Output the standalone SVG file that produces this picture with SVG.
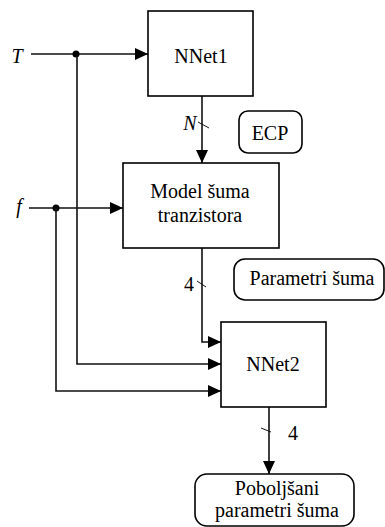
<svg xmlns="http://www.w3.org/2000/svg" width="385" height="527" viewBox="0 0 385 527">
<style>
.box{fill:#fff;stroke:#000;stroke-width:1.6}
.ln{fill:none;stroke:#111;stroke-width:1.6}
.tk{fill:none;stroke:#111;stroke-width:1}
.t{font-family:'Liberation Serif','Times New Roman',Times,serif;font-size:20px;fill:#000;text-anchor:middle}
.it{font-style:italic}
</style>
<defs>
<marker id="ah" markerWidth="13" markerHeight="12" refX="13" refY="6" orient="auto" markerUnits="userSpaceOnUse">
<path d="M0,0 L13,6 L0,12 Z" fill="#000"/>
</marker>
</defs>
<g id="connectors">
<path class="ln" d="M31,54 H148" marker-end="url(#ah)"/>
<circle cx="76" cy="54" r="3.5" fill="#000"/>
<path class="ln" d="M77,54 V364 H221" marker-end="url(#ah)"/>
<path class="ln" d="M29,208 H123" marker-end="url(#ah)"/>
<circle cx="56" cy="208" r="3.5" fill="#000"/>
<path class="ln" d="M56,208 V391 H221" marker-end="url(#ah)"/>
<path class="ln" d="M202,96 V163" marker-end="url(#ah)"/>
<path class="tk" d="M198,122 L209,128"/>
<path class="ln" d="M202,248 V342 H221" marker-end="url(#ah)"/>
<path class="tk" d="M197,281 L206,287"/>
<path class="ln" d="M269,407 V474" marker-end="url(#ah)"/>
<path class="tk" d="M261,428 L271,432"/>
<text class="t it" x="17" y="63" font-family="Liberation Serif, serif">T</text>
<text class="t it" x="19" y="213" font-family="Liberation Serif, serif">f</text>
<text class="t it" x="190" y="130" font-family="Liberation Serif, serif">N</text>
<text class="t" x="189" y="291" font-family="Liberation Serif, serif">4</text>
<text class="t" x="293" y="440" font-family="Liberation Serif, serif">4</text>
</g>
<g id="nnet1">
<rect class="box" x="148" y="11" width="105" height="85"/>
<text class="t" x="201" y="63" font-family="Liberation Serif, serif">NNet1</text>
</g>
<g id="ecp">
<rect class="box" x="239" y="111" width="63" height="42" rx="9"/>
<text class="t" x="270" y="140" font-family="Liberation Serif, serif">ECP</text>
</g>
<g id="model">
<rect class="box" x="123" y="163" width="156" height="85"/>
<text class="t" x="200" y="198" font-family="Liberation Serif, serif">Model šuma</text>
<text class="t" x="200" y="222" font-family="Liberation Serif, serif">tranzistora</text>
</g>
<g id="params">
<rect class="box" x="234" y="259" width="150" height="41" rx="11"/>
<text class="t" x="312" y="285" font-family="Liberation Serif, serif">Parametri šuma</text>
</g>
<g id="nnet2">
<rect class="box" x="221" y="322" width="105" height="85"/>
<text class="t" x="273" y="371" font-family="Liberation Serif, serif">NNet2</text>
</g>
<g id="improved">
<rect class="box" x="195" y="474" width="159" height="52" rx="12"/>
<text class="t" x="277" y="495" font-family="Liberation Serif, serif">Poboljšani</text>
<text class="t" x="277" y="517" font-family="Liberation Serif, serif">parametri šuma</text>
</g>
</svg>
